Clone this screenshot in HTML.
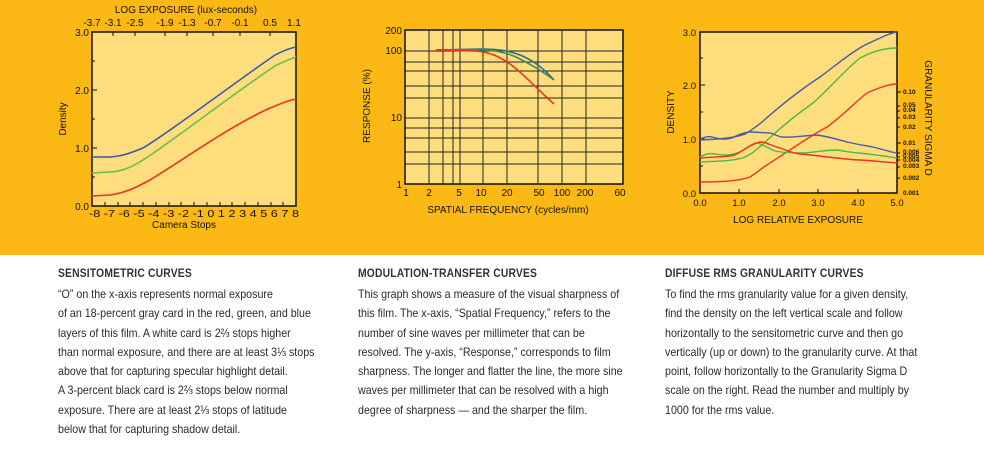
<!DOCTYPE html>
<html><head><meta charset="utf-8"><style>
html,body{margin:0;padding:0;width:984px;height:454px;overflow:hidden;background:#fff;}
.band{position:absolute;left:0;top:0;width:984px;height:255px;background:#FCB814;}
svg{position:absolute;left:0;top:0;}
.col{position:absolute;top:266px;font-family:"Liberation Sans",sans-serif;color:#2a2a2a;transform:scaleX(0.89);transform-origin:0 0;white-space:nowrap;}
.col h{display:block;font-weight:bold;font-size:11.6px;color:#333;letter-spacing:0.2px;height:19px;line-height:16px;}
.col div{font-size:12px;line-height:19.3px;}
</style></head><body>
<div class="band"></div>
<svg width="984" height="255" viewBox="0 0 984 255" font-family="Liberation Sans, sans-serif">
<!-- Chart 1 -->
<rect x="92" y="32" width="204" height="174" fill="#FEDD7C" stroke="#111" stroke-width="1.5"/>
<text x="186" y="13" font-size="10" text-anchor="middle" fill="#111">LOG EXPOSURE (lux-seconds)</text>
<g font-size="10" fill="#111" text-anchor="middle">
<text x="92" y="26">-3.7</text><text x="113" y="26">-3.1</text><text x="135" y="26">-2.5</text><text x="165" y="26">-1.9</text><text x="187" y="26">-1.3</text><text x="213" y="26">-0.7</text><text x="240" y="26">-0.1</text><text x="270" y="26">0.5</text><text x="294" y="26">1.1</text>
</g>
<g stroke="#111" stroke-width="1">
<line x1="113" y1="32" x2="113" y2="36"/><line x1="135" y1="32" x2="135" y2="36"/><line x1="165" y1="32" x2="165" y2="36"/><line x1="187" y1="32" x2="187" y2="36"/><line x1="213" y1="32" x2="213" y2="36"/><line x1="240" y1="32" x2="240" y2="36"/><line x1="270" y1="32" x2="270" y2="36"/>
<line x1="92" y1="90" x2="97" y2="90"/><line x1="92" y1="148" x2="97" y2="148"/>
<line x1="92" y1="61" x2="95" y2="61"/><line x1="92" y1="119" x2="95" y2="119"/><line x1="92" y1="177" x2="95" y2="177"/>
</g>
<g stroke="#111" stroke-width="1">
<line x1="105" y1="206" x2="105" y2="202"/><line x1="118" y1="206" x2="118" y2="202"/><line x1="130" y1="206" x2="130" y2="202"/><line x1="143" y1="206" x2="143" y2="202"/><line x1="156" y1="206" x2="156" y2="202"/><line x1="169" y1="206" x2="169" y2="202"/><line x1="181" y1="206" x2="181" y2="202"/><line x1="194" y1="206" x2="194" y2="202"/><line x1="207" y1="206" x2="207" y2="202"/><line x1="220" y1="206" x2="220" y2="202"/><line x1="232" y1="206" x2="232" y2="202"/><line x1="245" y1="206" x2="245" y2="202"/><line x1="258" y1="206" x2="258" y2="202"/><line x1="271" y1="206" x2="271" y2="202"/><line x1="283" y1="206" x2="283" y2="202"/>
</g>
<g font-size="10" fill="#111" text-anchor="end">
<text x="89" y="36">3.0</text><text x="89" y="94">2.0</text><text x="89" y="152">1.0</text><text x="89" y="210">0.0</text>
</g>
<text transform="translate(66,119) rotate(-90)" font-size="10" text-anchor="middle" fill="#111">Density</text>
<text x="194" y="217" font-size="10.5" fill="#111" text-anchor="middle" textLength="210" lengthAdjust="spacingAndGlyphs">-8 -7 -6 -5 -4 -3 -2 -1 0 1 2 3 4 5 6 7 8</text>
<text x="184" y="228" font-size="10" fill="#111" text-anchor="middle">Camera Stops</text>
<g fill="none" stroke-width="1.6">
<path d="M92,157 L110,157 C125,156 135,151 143,148 C170,132 230,86 275,55 C285,50 290,48 296,47" stroke="#3B5BA5"/>
<path d="M92,173 L110,172 C125,171 135,165 143,160 C170,143 230,96 275,66 C285,61 290,59 296,57" stroke="#6BBE45"/>
<path d="M92,196 L110,195 C125,193 135,188 150,180 C180,162 230,126 270,108 C285,102 290,100 296,99" stroke="#EE3124"/>
</g>
<!-- Chart 2 -->
<rect x="405" y="30" width="218" height="154" fill="#FEDD7C"/>
<g stroke="#222" stroke-width="1">
<line x1="429" y1="30" x2="429" y2="184"/><line x1="443" y1="30" x2="443" y2="184"/><line x1="453" y1="30" x2="453" y2="184"/><line x1="460" y1="30" x2="460" y2="184"/><line x1="483" y1="30" x2="483" y2="184"/><line x1="507" y1="30" x2="507" y2="184"/><line x1="538" y1="30" x2="538" y2="184"/><line x1="562" y1="30" x2="562" y2="184"/><line x1="586" y1="30" x2="586" y2="184"/>
<line x1="405" y1="51" x2="623" y2="51"/><line x1="405" y1="62" x2="623" y2="62"/><line x1="405" y1="71" x2="623" y2="71"/><line x1="405" y1="86" x2="623" y2="86"/><line x1="405" y1="98" x2="623" y2="98"/><line x1="405" y1="118" x2="623" y2="118"/><line x1="405" y1="128" x2="623" y2="128"/><line x1="405" y1="138" x2="623" y2="138"/><line x1="405" y1="152" x2="623" y2="152"/><line x1="405" y1="164" x2="623" y2="164"/>
</g>
<rect x="405" y="30" width="218" height="154" fill="none" stroke="#111" stroke-width="1.5"/>
<g font-size="10" fill="#111" text-anchor="end">
<text x="402" y="34">200</text><text x="402" y="54">100</text><text x="402" y="121">10</text><text x="402" y="188">1</text>
</g>
<g font-size="10" fill="#111" text-anchor="middle">
<text x="406" y="196">1</text><text x="429" y="196">2</text><text x="459" y="196">5</text><text x="481" y="196">10</text><text x="507" y="196">20</text><text x="539" y="196">50</text><text x="562" y="196">100</text><text x="585" y="196">200</text><text x="620" y="196">60</text>
</g>
<text x="508" y="213" font-size="10" fill="#111" text-anchor="middle">SPATIAL FREQUENCY (cycles/mm)</text>
<text transform="translate(370,106) rotate(-90)" font-size="10" fill="#111" text-anchor="middle">RESPONSE (%)</text>
<g fill="none" stroke-width="1.6">
<path d="M436,50 L480,49 C500,49 510,51 520,55 C535,61 545,70 554,80" stroke="#2E6F8E"/>
<path d="M436,50 L480,50 C497,50 508,53 518,58 C532,65 545,73 554,80" stroke="#3C8F5A"/>
<path d="M436,50 L475,51 C490,52 500,57 510,64 C525,75 540,92 554,104" stroke="#EE3124"/>
</g>
<!-- Chart 3 -->
<rect x="700" y="32" width="197" height="161" fill="#FEDD7C" stroke="#111" stroke-width="1.5"/>
<g stroke="#111" stroke-width="1">
<line x1="700" y1="58" x2="703" y2="58"/><line x1="700" y1="112" x2="703" y2="112"/><line x1="700" y1="166" x2="703" y2="166"/>
<line x1="700" y1="85" x2="705" y2="85"/><line x1="700" y1="139" x2="705" y2="139"/>
<line x1="739" y1="193" x2="739" y2="189"/><line x1="779" y1="193" x2="779" y2="189"/><line x1="818" y1="193" x2="818" y2="189"/><line x1="858" y1="193" x2="858" y2="189"/>
</g>
<g font-size="9.5" fill="#111" text-anchor="end">
<text x="696" y="36">3.0</text><text x="696" y="89">2.0</text><text x="696" y="143">1.0</text><text x="696" y="197">0.0</text>
</g>
<g font-size="9.5" fill="#111" text-anchor="middle">
<text x="700" y="206">0.0</text><text x="739" y="206">1.0</text><text x="779" y="206">2.0</text><text x="818" y="206">3.0</text><text x="858" y="206">4.0</text><text x="897" y="206">5.0</text>
</g>
<text x="798" y="223" font-size="10" fill="#111" text-anchor="middle">LOG RELATIVE EXPOSURE</text>
<text transform="translate(674,112) rotate(-90)" font-size="10" fill="#111" text-anchor="middle">DENSITY</text>
<text transform="translate(925,118) rotate(90)" font-size="10" fill="#111" text-anchor="middle">GRANULARITY SIGMA D</text>
<g font-size="6.5" fill="#111" font-weight="bold">
<text x="903" y="94">0.10</text><text x="903" y="107">0.05</text><text x="903" y="112">0.04</text><text x="903" y="119">0.03</text><text x="903" y="129">0.02</text><text x="903" y="145">0.01</text><text x="903" y="154">0.006</text><text x="903" y="158">0.005</text><text x="903" y="162">0.004</text><text x="903" y="168">0.003</text><text x="903" y="180">0.002</text><text x="903" y="195">0.001</text>
</g>
<g stroke="#111" stroke-width="1">
<line x1="897" y1="92" x2="901" y2="92"/><line x1="897" y1="106" x2="900" y2="106"/><line x1="897" y1="111" x2="900" y2="111"/><line x1="897" y1="118" x2="900" y2="118"/><line x1="897" y1="127" x2="900" y2="127"/><line x1="897" y1="143" x2="901" y2="143"/><line x1="897" y1="153" x2="900" y2="153"/><line x1="897" y1="157" x2="900" y2="157"/><line x1="897" y1="160" x2="900" y2="160"/><line x1="897" y1="167" x2="900" y2="167"/><line x1="897" y1="178" x2="900" y2="178"/>
</g>
<g fill="none" stroke-width="1.4">
<path d="M700,140 C720,139 735,138 745,134 C752,130 756,127 762,122 C780,106 800,90 820,77 C835,66 850,53 865,45 C880,38 890,33 897,32" stroke="#4A5BA8"/>
<path d="M700,162 C720,161 735,161 745,157 C752,154 756,150 762,145 C780,128 800,112 813,103 C830,88 845,70 860,58 C875,50 888,48 897,48" stroke="#4DB848"/>
<path d="M700,182 C720,182 740,181 750,177 C758,172 763,167 770,163 C790,150 810,136 827,127 C845,114 855,102 867,93 C880,87 890,84 897,84" stroke="#EE3124"/>
<path d="M700,139 C705,137 708,136 712,137 C720,139 725,140 732,138 C740,134 746,132 750,132 C757,132 765,133 770,133 C775,134 778,137 783,137 C790,138 800,136 817,135 C830,137 840,140 847,142 C860,145 867,146 873,147 C885,150 890,152 897,153" stroke="#4A5BA8"/>
<path d="M700,157 C705,154 710,153 715,154 C725,156 732,155 740,152 C748,148 752,143 757,143 C762,144 768,148 775,151 C785,153 795,153 805,153 C815,152 825,150 837,150 C845,151 852,153 860,153 C875,155 885,156 897,158" stroke="#4DB848"/>
<path d="M700,158 C712,157 720,157 730,156 C738,155 742,150 750,146 C756,143 758,142 762,142 C768,143 772,146 780,148 C788,151 793,153 800,154 C812,155 820,156 827,157 C840,158 850,160 860,160 C875,161 885,162 897,163" stroke="#EE3124"/>
</g>
</svg>
<div class="col" style="left:58px;"><h>SENSITOMETRIC CURVES</h>
<div>“O” on the x-axis represents normal exposure</div>
<div>of an 18-percent gray card in the red, green, and blue</div>
<div>layers of this film. A white card is 2⅔ stops higher</div>
<div>than normal exposure, and there are at least 3⅓ stops</div>
<div>above that for capturing specular highlight detail.</div>
<div>A 3-percent black card is 2⅔ stops below normal</div>
<div>exposure. There are at least 2⅓ stops of latitude</div>
<div>below that for capturing shadow detail.</div></div>
<div class="col" style="left:358px;"><h>MODULATION-TRANSFER CURVES</h>
<div>This graph shows a measure of the visual sharpness of</div>
<div>this film. The x-axis, “Spatial Frequency,” refers to the</div>
<div>number of sine waves per millimeter that can be</div>
<div>resolved. The y-axis, “Response,” corresponds to film</div>
<div>sharpness. The longer and flatter the line, the more sine</div>
<div>waves per millimeter that can be resolved with a high</div>
<div>degree of sharpness — and the sharper the film.</div></div>
<div class="col" style="left:665px;"><h>DIFFUSE RMS GRANULARITY CURVES</h>
<div>To find the rms granularity value for a given density,</div>
<div>find the density on the left vertical scale and follow</div>
<div>horizontally to the sensitometric curve and then go</div>
<div>vertically (up or down) to the granularity curve. At that</div>
<div>point, follow horizontally to the Granularity Sigma D</div>
<div>scale  on the right. Read the number and multiply  by</div>
<div>1000 for the rms value.</div></div>
</body></html>
